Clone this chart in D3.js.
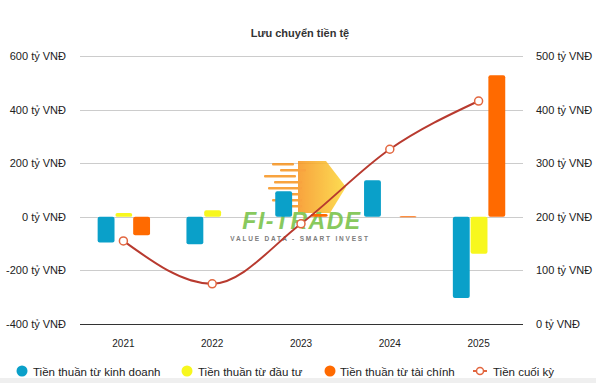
<!DOCTYPE html>
<html>
<head>
<meta charset="utf-8">
<script src="https://cdn.jsdelivr.net/npm/d3@7"></script>
<style>
  html, body { margin: 0; padding: 0; background: #fff; }
  svg { display: block; font-family: "Liberation Sans", Arial, sans-serif; }
</style>
</head>
<body>
<svg id="chart" width="596" height="383"></svg>
<script>
const years = ["2021", "2022", "2023", "2024", "2025"];
const seriesNames = ["Tiền thuần từ kinh doanh", "Tiền thuần từ đầu tư", "Tiền thuần từ tài chính"];
const kinhDoanh = [-96, -102, 95, 136, -303];
const dauTu = [14, 24, 0, 0, -138];
const taiChinh = [-69, 0, 10, 2, 528];
const tienCuoiKy = [155, 75, 187, 326, 416];
const leftTicks = [-400, -200, 0, 200, 400, 600];
const rightTicks = [0, 100, 200, 300, 400, 500];
const lineName = "Tiền cuối kỳ";
const colors = ["#0aa0c9", "#f7f71e", "#ff6a00"];

const svg = d3.select("#chart");
const W = 596, H = 383;

// bottom gray band
svg.append("rect").attr("x", 0).attr("y", 378).attr("width", W).attr("height", 5).attr("fill", "#efefef");

const x = d3.scaleBand().domain(years).range([79, 523]);
const xi = d3.scaleBand().domain([0, 1, 2]).range([x.bandwidth() * 0.21, x.bandwidth() * 0.80]).paddingInner(0.05);
const yL = d3.scaleLinear().domain([-400, 600]).range([324, 56]);
const yR = d3.scaleLinear().domain([0, 500]).range([324, 56]);

// title
svg.append("text").attr("x", 300).attr("y", 37).attr("text-anchor", "middle")
  .attr("font-size", 11).attr("font-weight", "bold").attr("fill", "#333").text("Lưu chuyển tiền tệ");

// gridlines
const g = svg.append("g");
g.selectAll("line.grid").data(leftTicks).join("line")
  .attr("x1", 80).attr("x2", 523)
  .attr("y1", d => Math.round(yL(d)) + 0.5).attr("y2", d => Math.round(yL(d)) + 0.5)
  .attr("stroke", d => d === -400 ? "#333" : "#cccccc").attr("stroke-width", 1);

// left axis labels
svg.append("g").selectAll("text").data(leftTicks).join("text")
  .attr("x", 66).attr("y", d => yL(d) + 4).attr("text-anchor", "end")
  .attr("font-size", 11).attr("fill", "#222").text(d => d + " tỷ VNĐ");
// right axis labels
svg.append("g").selectAll("text").data(rightTicks).join("text")
  .attr("x", 536).attr("y", d => yR(d) + 4).attr("text-anchor", "start")
  .attr("font-size", 11).attr("fill", "#222").text(d => d + " tỷ VNĐ");

// x labels
svg.append("g").selectAll("text").data(years).join("text")
  .attr("x", d => x(d) + x.bandwidth() / 2).attr("y", 347).attr("text-anchor", "middle")
  .attr("font-size", 10).attr("fill", "#222").text(d => d);

// watermark (FI-TRADE logo, simplified)
const wm = svg.append("g").attr("opacity", 0.85);
const defs = svg.append("defs");
const grad = defs.append("linearGradient").attr("id", "wmg").attr("x1", "0").attr("x2", "1");
grad.append("stop").attr("offset", "0").attr("stop-color", "#f7941d");
grad.append("stop").attr("offset", "1").attr("stop-color", "#fdd835");
wm.append("path").attr("d", "M298,161 L326,161 L346,187 L330,213 L298,213 Z").attr("fill", "url(#wmg)");
const dashes = [[272,163,22],[280,169,26],[264,175,32],[274,181,28],[268,187,34],[278,193,22],[272,199,30],[284,205,18]];
wm.selectAll("rect.d").data(dashes).join("rect")
  .attr("x", d => d[0]).attr("y", d => d[1]).attr("width", d => d[2]).attr("height", 2.5)
  .attr("rx", 1).attr("fill", "#f7931e");
wm.append("text").attr("x", 302).attr("y", 229).attr("text-anchor", "middle")
  .attr("font-size", 23).attr("font-weight", "bold").attr("font-style", "italic")
  .attr("fill", "#74c043").attr("letter-spacing", 1.5).text("FI-TRADE");
wm.append("text").attr("x", 300).attr("y", 241).attr("text-anchor", "middle")
  .attr("font-size", 6.5).attr("font-weight", "bold").attr("fill", "#666")
  .attr("letter-spacing", 1.8).text("VALUE DATA - SMART INVEST");

// bars
const allSeries = [kinhDoanh, dauTu, taiChinh];
allSeries.forEach((vals, si) => {
  svg.append("g").selectAll("rect").data(vals.map((v, i) => ({ year: years[i], v })))
    .join("rect")
    .attr("x", d => x(d.year) + xi(si))
    .attr("width", xi.bandwidth())
    .attr("y", d => yL(Math.max(0, d.v)))
    .attr("height", d => Math.max(Math.abs(yL(d.v) - yL(0)), d.v !== 0 ? 1 : 0))
    .attr("rx", 2)
    .attr("fill", colors[si]);
});

// line
const pts = tienCuoiKy.map((v, i) => [x(years[i]) + x.bandwidth() / 2, yR(v)]);
svg.append("path").attr("d", d3.line().curve(d3.curveMonotoneX)(pts))
  .attr("fill", "none").attr("stroke", "#b83a2f").attr("stroke-width", 2);
svg.append("g").selectAll("circle").data(pts).join("circle")
  .attr("cx", d => d[0]).attr("cy", d => d[1]).attr("r", 4)
  .attr("fill", "#fff").attr("stroke", "#e2663f").attr("stroke-width", 1.5);

// legend
const leg = svg.append("g");
const legItems = [
  { name: seriesNames[0], cx: 22, tx: 33, color: colors[0] },
  { name: seriesNames[1], cx: 187, tx: 198, color: colors[1] },
  { name: seriesNames[2], cx: 330, tx: 340, color: colors[2] }
];
legItems.forEach(it => {
  leg.append("circle").attr("cx", it.cx).attr("cy", 371).attr("r", 5.5).attr("fill", it.color);
  leg.append("text").attr("x", it.tx).attr("y", 375.5).attr("font-size", 11.5).attr("fill", "#222").text(it.name);
});
leg.append("line").attr("x1", 473).attr("x2", 487).attr("y1", 371).attr("y2", 371)
  .attr("stroke", "#e2663f").attr("stroke-width", 2);
leg.append("circle").attr("cx", 480).attr("cy", 371).attr("r", 3.5).attr("fill", "#fff")
  .attr("stroke", "#e2663f").attr("stroke-width", 1.5);
leg.append("text").attr("x", 493).attr("y", 375.5).attr("font-size", 11.5).attr("fill", "#222").text(lineName);
</script>
</body>
</html>
